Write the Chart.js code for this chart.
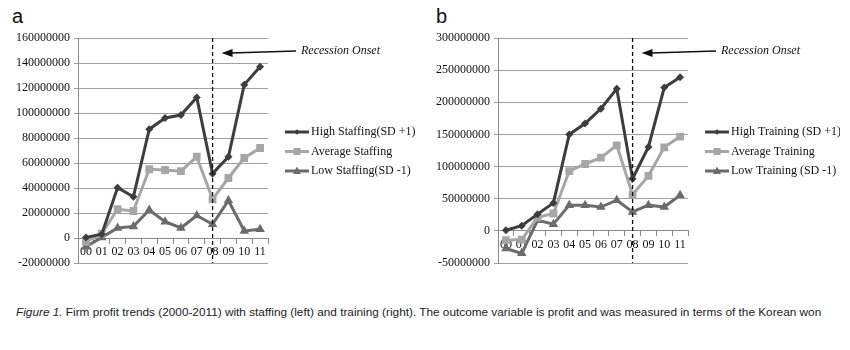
<!DOCTYPE html>
<html>
<head>
<meta charset="utf-8">
<script src="https://cdn.jsdelivr.net/npm/chart.js@4.4.0/dist/chart.umd.min.js"></script>
<style>
body{margin:0;background:#fff;width:850px;height:350px;position:relative;overflow:hidden}
canvas{position:absolute;top:0}
#graficoA{left:0}
#graficoB{left:420px}
.letra{position:absolute;top:5px;font:20px "Liberation Sans",Arial,sans-serif;color:#111}
#pie{position:absolute;left:16px;top:305px;font:11.8px "Liberation Sans",Arial,sans-serif;color:#222;white-space:nowrap}
</style>
</head>
<body>
<div class="letra" style="left:12px">a</div>
<div class="letra" style="left:436px">b</div>
<canvas id="graficoA" width="420" height="280"></canvas>
<canvas id="graficoB" width="420" height="280"></canvas>
<div id="pie"><i>Figure 1.</i> Firm profit trends (2000-2011) with staffing (left) and training (right). The outcome variable is profit and was measured in terms of the Korean won</div>
<script>
'use strict'

// años (2000-2011)
var anios = ['00','01','02','03','04','05','06','07','08','09','10','11'];
var recesion = '08';

// panel a: staffing
var altaDotacion  = [500000, 3000000, 40300000, 33000000, 87000000, 96000000, 98400000, 112500000, 51500000, 65000000, 122700000, 137000000];
var mediaDotacion = [-3000000, 3500000, 23000000, 21600000, 55000000, 54400000, 53500000, 65000000, 31000000, 48000000, 64000000, 72000000];
var bajaDotacion  = [-7000000, 500000, 8000000, 9300000, 22400000, 13000000, 8000000, 18000000, 11000000, 30000000, 5600000, 7000000];
var nombresA = ['High Staffing(SD +1)', 'Average Staffing', 'Low Staffing(SD -1)'];
var ejeA = [-20000000, 160000000, 20000000];

// panel b: training
var altaFormacion  = [1000000, 8000000, 26000000, 43500000, 150000000, 167000000, 190000000, 221000000, 81000000, 130600000, 223000000, 239000000];
var mediaFormacion = [-14500000, -13500000, 21000000, 27000000, 93000000, 104000000, 114000000, 133000000, 56500000, 85500000, 130000000, 146600000];
var bajaFormacion  = [-27500000, -35000000, 16500000, 10400000, 40000000, 40000000, 37000000, 47700000, 29500000, 40000000, 37300000, 55500000];
var nombresB = ['High Training (SD +1)', 'Average Training', 'Low Training (SD -1)'];
var ejeB = [-50000000, 300000000, 50000000];

var colores = ['#3d3d3d', '#a6a6a6', '#6b6b6b'];
var formas = ['rectRot', 'rect', 'triangle'];
var radios = [4, 5.5, 5.5];
var serif = '"Liberation Serif", "Times New Roman", serif';

function marcador(ctx, forma, x, y, t){
  ctx.beginPath();
  if (forma == 'rectRot') {
    ctx.moveTo(x, y - t); ctx.lineTo(x + t, y); ctx.lineTo(x, y + t); ctx.lineTo(x - t, y);
  } else if (forma == 'rect') {
    ctx.rect(x - t, y - t, 2 * t, 2 * t);
  } else {
    ctx.moveTo(x, y - t - 1); ctx.lineTo(x + t + 0.5, y + t - 0.5); ctx.lineTo(x - t - 0.5, y + t - 0.5);
  }
  ctx.closePath();
  ctx.fill();
}

// linea de recesion, flecha, texto y leyenda
var extras = {
  id: 'extras',
  afterDraw: function(chart){
    var ctx = chart.ctx, area = chart.chartArea;
    var x = chart.scales.x.getPixelForValue(anios.indexOf(recesion));
    ctx.save();
    ctx.strokeStyle = '#111';
    ctx.lineWidth = 1.3;
    ctx.setLineDash([4, 3]);
    ctx.beginPath(); ctx.moveTo(x, area.top); ctx.lineTo(x, area.bottom); ctx.stroke();
    ctx.setLineDash([]);

    var ya = area.top + 15;
    ctx.lineWidth = 1.6;
    ctx.beginPath(); ctx.moveTo(area.right + 28, ya - 2); ctx.lineTo(x + 18, ya); ctx.stroke();
    ctx.fillStyle = '#111';
    ctx.beginPath(); ctx.moveTo(x + 9, ya); ctx.lineTo(x + 20, ya - 4); ctx.lineTo(x + 20, ya + 4); ctx.closePath(); ctx.fill();

    ctx.font = 'italic 12px ' + serif;
    ctx.textBaseline = 'middle';
    ctx.fillStyle = '#111';
    ctx.fillText('Recession Onset', area.right + 33, ya - 2);

    // leyenda
    ctx.font = '12px ' + serif;
    var x0 = area.right + 17;
    chart.data.datasets.forEach(function(ds, i){
      var y = 132 + i * 19.5;
      ctx.strokeStyle = colores[i];
      ctx.lineWidth = 3;
      ctx.beginPath(); ctx.moveTo(x0, y); ctx.lineTo(x0 + 24, y); ctx.stroke();
      ctx.fillStyle = colores[i];
      marcador(ctx, formas[i], x0 + 12, y, i == 0 ? 2.8 : 3.5);
      ctx.fillStyle = '#111';
      ctx.fillText(ds.label, x0 + 26, y);
    });
    ctx.restore();
  }
};

function series(datos, nombres){
  return datos.map(function(d, i){
    return {
      label: nombres[i],
      data: d,
      borderColor: colores[i],
      backgroundColor: colores[i],
      borderWidth: 3,
      pointStyle: formas[i],
      pointRadius: radios[i],
      pointHoverRadius: radios[i],
      pointBorderWidth: 0,
      tension: 0
    };
  });
}

function grafico(id, datos, nombres, eje){
  return new Chart(document.getElementById(id), {
    type: 'line',
    data: { labels: anios, datasets: series(datos, nombres) },
    plugins: [extras],
    options: {
      responsive: false,
      animation: false,
      layout: { padding: { top: 38, bottom: 17, left: 0, right: 152 } },
      plugins: { legend: { display: false }, tooltip: { enabled: false } },
      scales: {
        x: {
          position: { y: 0 },
          offset: true,
          grid: { drawOnChartArea: false, tickLength: 5, color: '#8a8a8a', offset: true },
          border: { color: '#8a8a8a', width: 1 },
          ticks: { color: '#111', font: { family: serif, size: 12 }, padding: 2, maxRotation: 0, autoSkip: false }
        },
        y: {
          min: eje[0], max: eje[1],
          afterFit: function(s){ s.width = 78; },
          grid: { color: '#a0a0a0', tickLength: 4 },
          border: { color: '#8a8a8a' },
          ticks: {
            stepSize: eje[2],
            color: '#111',
            font: { family: serif, size: 12 },
            padding: 4,
            callback: function(v){ return String(v); }
          }
        }
      }
    }
  });
}

var chartA = grafico('graficoA', [altaDotacion, mediaDotacion, bajaDotacion], nombresA, ejeA);
var chartB = grafico('graficoB', [altaFormacion, mediaFormacion, bajaFormacion], nombresB, ejeB);
</script>
</body>
</html>
